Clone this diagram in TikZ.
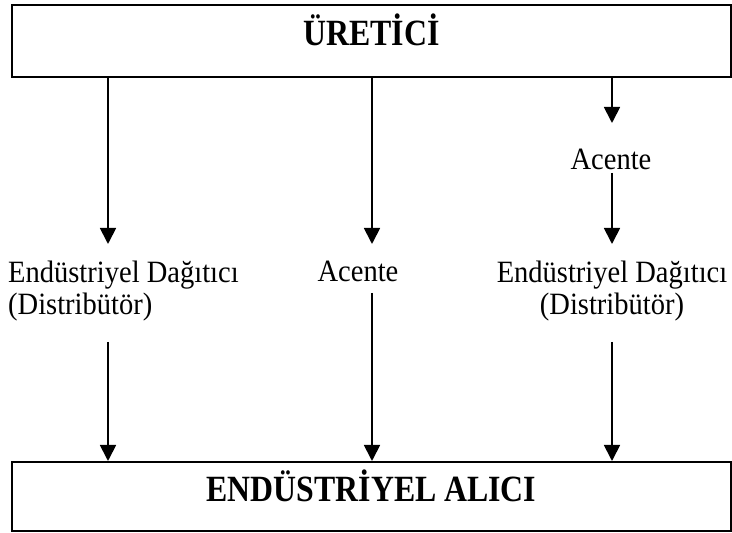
\documentclass[tikz,border=0pt]{standalone}
\usepackage{fontspec}
\setmainfont{Liberation Serif}
\newfontfamily\labelfont{Liberation Serif}[FakeStretch=0.92]
\newfontfamily\titlefont{Liberation Serif}[FakeStretch=0.86]
\usetikzlibrary{arrows.meta}
\begin{document}
\begin{tikzpicture}[x=1pt,y=1pt,
  box/.style={draw, line width=2pt, minimum width=719pt, inner sep=0pt},
  title/.style={font=\titlefont\fontsize{37}{40}\selectfont\bfseries, inner sep=0pt},
  lbl/.style={font=\labelfont\fontsize{31}{32}\selectfont, inner sep=0pt},
  arr/.style={line width=1.8pt, -{Triangle[width=16pt,length=16pt]}}]
\useasboundingbox (0,0) rectangle (732,533);

% producer and buyer boxes
\node[box, minimum height=72pt] (prod) at (371.5,492) {};
\node[title, anchor=base] (prodt) at (371.5,487) {ÜRETİCİ};
\node[box, minimum height=69pt] (buyer) at (371.5,36.5) {};
\node[title, anchor=base] (buyert) at (371.5,31) {ENDÜSTRİYEL ALICI};

% intermediaries (base anchor sits on the last line)
\node[lbl, anchor=base west, align=left] (dist1) at (8,218) {Endüstriyel Dağıtıcı\\(Distribütör)};
\node[lbl, anchor=base] (agent2) at (358,251) {Acente};
\node[lbl, anchor=base] (agent3) at (611,363) {Acente};
\node[lbl, anchor=base, align=center] (dist3) at (612,218) {Endüstriyel Dağıtıcı\\(Distribütör)};

% arrow end points
\coordinate (t1) at (108,289);
\coordinate (s1) at (108,191);
\coordinate (t2) at (372,289);
\coordinate (s2) at (372,240);
\coordinate (t3a) at (612,410);
\coordinate (s3a) at (612,360);
\coordinate (t3) at (612,289);
\coordinate (s3) at (612,191);

% channel arrows
\draw[arr] (prod.south -| t1) -- (t1);
\draw[arr] (s1) -- (s1 |- buyer.north);
\draw[arr] (prod.south -| t2) -- (t2);
\draw[arr] (s2) -- (s2 |- buyer.north);
\draw[arr] (prod.south -| t3a) -- (t3a);
\draw[arr] (s3a) -- (t3);
\draw[arr] (s3) -- (s3 |- buyer.north);
\end{tikzpicture}
\end{document}
